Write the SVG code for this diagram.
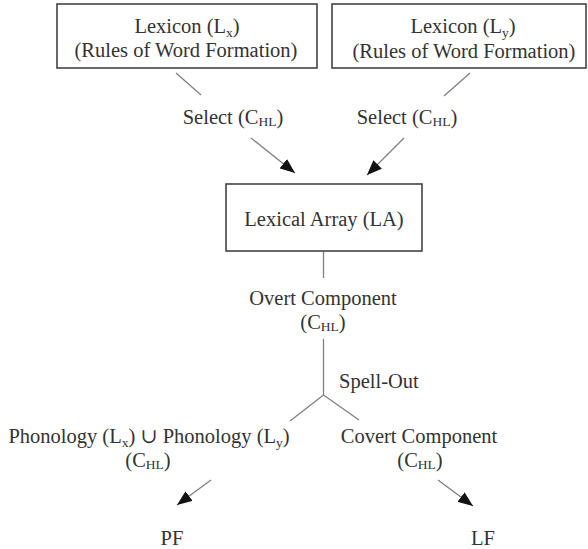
<svg xmlns="http://www.w3.org/2000/svg" width="588" height="549" viewBox="0 0 588 549" font-family="'Liberation Serif', 'DejaVu Serif', serif">
<defs>
<style>
text{font-family:'Liberation Serif','DejaVu Serif',serif;font-size:20.5px;fill:#333;text-anchor:middle}
.s{text-anchor:start}
.box{fill:#fff;stroke:#444;stroke-width:1.6}
.ln{stroke:#808080;stroke-width:1.3;fill:none}
.sub{font-size:13.5px}
</style>
<marker id="ah" viewBox="0 0 15 12" refX="15" refY="6" markerWidth="15" markerHeight="12" markerUnits="userSpaceOnUse" orient="auto">
<path d="M0,0 L15,6 L0,12 Z" fill="#111"/>
</marker>
</defs>
<rect width="588" height="549" fill="#fff"/>
<g id="connectors">
<line class="ln" x1="176" y1="73" x2="201" y2="95"/>
<line class="ln" x1="470" y1="73" x2="444" y2="96"/>
<line class="ln" x1="251" y1="138" x2="295" y2="173" marker-end="url(#ah)"/>
<line class="ln" x1="404" y1="138" x2="367" y2="175" marker-end="url(#ah)"/>
<line class="ln" x1="323.5" y1="251" x2="323.5" y2="278"/>
<line class="ln" x1="323.5" y1="339" x2="323.5" y2="395"/>
<line class="ln" x1="323.5" y1="395" x2="290" y2="421"/>
<line class="ln" x1="323.5" y1="395" x2="359" y2="420"/>
<line class="ln" x1="211" y1="480" x2="177" y2="505" marker-end="url(#ah)"/>
<line class="ln" x1="438" y1="480" x2="473" y2="506" marker-end="url(#ah)"/>
</g>
<g id="lexicon-x">
<rect class="box" x="57" y="4" width="260" height="64"/>
<text x="187" y="33">Lexicon (L<tspan class="sub" dy="4">x</tspan><tspan dy="-4">)</tspan></text>
<text x="186" y="57">(Rules of Word Formation)</text>
</g>
<g id="lexicon-y">
<rect class="box" x="332" y="4" width="254" height="64"/>
<text x="463" y="33">Lexicon (L<tspan class="sub" dy="4">y</tspan><tspan dy="-4">)</tspan></text>
<text x="464" y="58">(Rules of Word Formation)</text>
</g>
<g id="select-x">
<text x="233" y="124">Select (C<tspan class="sub" dy="2">HL</tspan><tspan dy="-2">)</tspan></text>
</g>
<g id="select-y">
<text x="407" y="124">Select (C<tspan class="sub" dy="2">HL</tspan><tspan dy="-2">)</tspan></text>
</g>
<g id="lexical-array">
<rect class="box" x="226" y="184" width="196" height="67"/>
<text x="324" y="226">Lexical Array (LA)</text>
</g>
<g id="overt">
<text x="323" y="305">Overt Component</text>
<text x="323" y="329">(C<tspan class="sub" dy="2">HL</tspan><tspan dy="-2">)</tspan></text>
</g>
<g id="spell-out">
<text class="s" x="339" y="388">Spell-Out</text>
</g>
<g id="phonology">
<text x="149" y="443">Phonology (L<tspan class="sub" dy="4">x</tspan><tspan dy="-4">) ∪ Phonology (L</tspan><tspan class="sub" dy="4">y</tspan><tspan dy="-4">)</tspan></text>
<text x="148" y="467">(C<tspan class="sub" dy="2">HL</tspan><tspan dy="-2">)</tspan></text>
</g>
<g id="covert">
<text x="419" y="443">Covert Component</text>
<text x="420" y="467">(C<tspan class="sub" dy="2">HL</tspan><tspan dy="-2">)</tspan></text>
</g>
<g id="pf">
<text x="172" y="545">PF</text>
</g>
<g id="lf">
<text x="483" y="545">LF</text>
</g>
</svg>
